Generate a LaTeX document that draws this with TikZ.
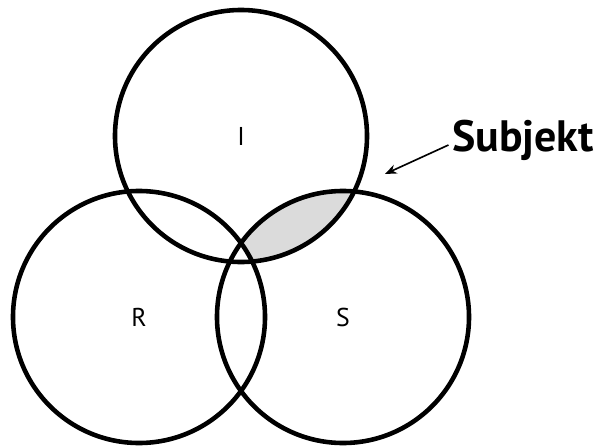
\documentclass[tikz,border=0pt]{standalone}
\usepackage{fontspec}
\setmainfont{PT Sans}
\usetikzlibrary{arrows.meta,positioning}

\begin{document}
\begin{tikzpicture}[
  x=0.03cm, y=-0.03cm,
  ring/.style={draw=black, line width=3.9pt, circle, minimum size=7.56cm, inner sep=0pt, font=\fontsize{22}{26}\selectfont},
  tag/.style={font=\bfseries\fontsize{37.5}{44}\selectfont, inner sep=0pt}
]
  \useasboundingbox (0,0) rectangle (604,447);
  % shaded part: inside I and S, outside R
  \begin{scope}
    \clip (241,136) circle[radius=126];
    \fill[black!14] (343,317) circle[radius=126];
    \fill[white] (139,317) circle[radius=126];
  \end{scope}
  \node[ring] (cI) at (241,136) {I};
  \node[ring] (cR) at (139,317) {R};
  \node[ring] (cS) at (343,317) {S};
  \node[tag, anchor=base west] (subj) at (452,151) {Subjekt};
  \coordinate (tip) at (385,174);
  \draw[line width=1.4pt, -{Stealth[length=10pt, width=8pt]}] ([xshift=-3pt]subj.west |- 0,145) -- (tip);
\end{tikzpicture}
\end{document}
